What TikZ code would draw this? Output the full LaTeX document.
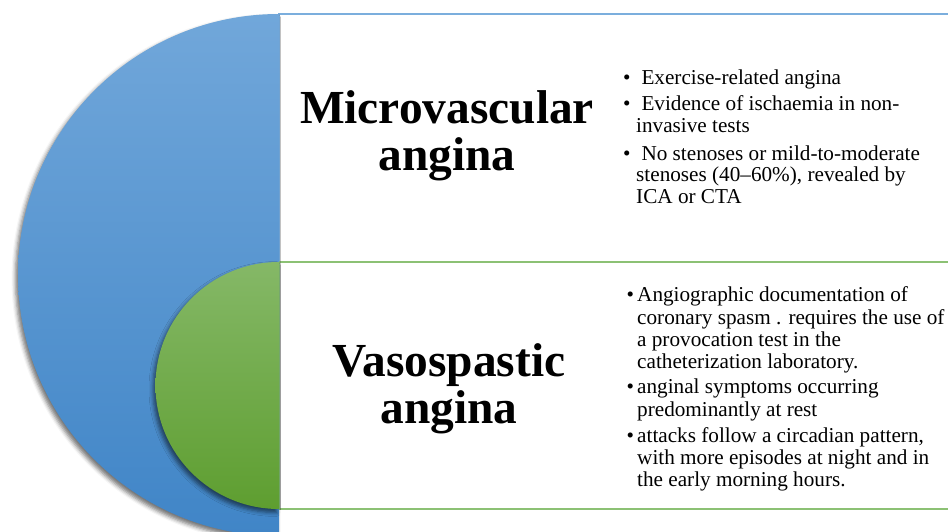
\documentclass[tikz,border=0pt]{standalone}
\usepackage{fontspec}
\setmainfont{Liberation Serif}
\usetikzlibrary{shadows.blur}

\definecolor{bluetop}{HTML}{71A7DA}
\definecolor{bluebot}{HTML}{4085C7}
\definecolor{greentop}{HTML}{85B867}
\definecolor{greenbot}{HTML}{5E9E30}
\definecolor{blueline}{HTML}{7BAEDD}
\definecolor{greenline}{HTML}{8CC174}

\begin{document}
\begin{tikzpicture}[x=1pt,y=-1pt,
  panel/.style={line width=1.4pt, fill=white},
  titletext/.style={font=\fontsize{47.4}{47}\selectfont\bfseries, align=center, inner sep=0pt},
  bullettext/.style={font=\fontsize{21.2}{21.8}\selectfont, align=left, inner sep=0pt, anchor=north west},
  halfdisk/.style={blur shadow={shadow xshift=-2.5pt, shadow yshift=-3.5pt, shadow blur radius=4pt, shadow opacity=55}}
]
\useasboundingbox (0,0) rectangle (948,532);

% panels
\path[panel, draw=blueline] (279,14) rectangle (970,262);
\path[panel, draw=greenline] (279,262) rectangle (970,509);

% half disks
\path[halfdisk, top color=bluetop, bottom color=bluebot]
  (279,14) arc[start angle=-90, end angle=-270, radius=261] -- cycle;
\path[halfdisk, top color=greentop, bottom color=greenbot]
  (279,262) arc[start angle=-90, end angle=-270, radius=123.5] -- cycle;

% titles
\node[titletext] (mvtitle) at (447,135.5) {Microvascular\\angina};
\node[titletext] (vstitle) at (449,388.7) {Vasospastic\\angina};

% bullet lists
\node[bullettext] (mvlist) at (623,68) {%
\rule{0pt}{16pt}\makebox[13pt][l]{•}\ Exercise-related angina\\[4.5pt]
\makebox[13pt][l]{•}\ Evidence of ischaemia in non-\\
\hspace*{13pt}invasive tests\\[6pt]
\makebox[13pt][l]{•}\ No stenoses or mild-to-moderate\\
\hspace*{13pt}stenoses (40–60\%), revealed by\\
\hspace*{13pt}ICA or CTA};

\node[bullettext, font=\fontsize{21.2}{22.3}\selectfont] (vslist) at (626.5,285.5) {%
\rule{0pt}{16pt}\makebox[10.5pt][l]{•}Angiographic documentation of\\
\hspace*{10.5pt}coronary spasm . requires the use of\\
\hspace*{10.5pt}a provocation test in the\\
\hspace*{10.5pt}catheterization laboratory.\\[3pt]
\makebox[10.5pt][l]{•}anginal symptoms occurring\\
\hspace*{10.5pt}predominantly at rest\\[3.5pt]
\makebox[10.5pt][l]{•}attacks follow a circadian pattern,\\
\hspace*{10.5pt}with more episodes at night and in\\
\hspace*{10.5pt}the early morning hours.};
\end{tikzpicture}
\end{document}
